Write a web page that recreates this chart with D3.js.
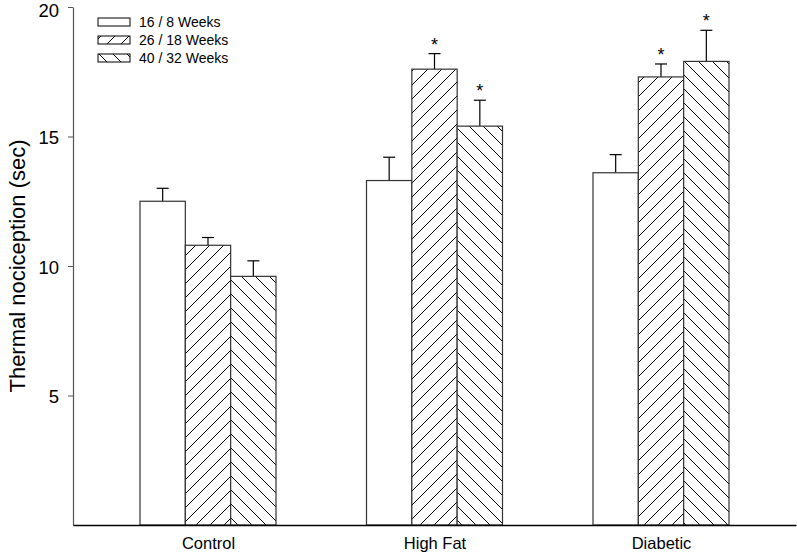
<!DOCTYPE html>
<html><head><meta charset="utf-8">
<script src="https://cdn.jsdelivr.net/npm/d3@7"></script>
<style>body{margin:0;background:#fff}svg{display:block;font-family:"Liberation Sans",Arial,sans-serif}</style>
</head><body><svg id="c" width="797" height="553"></svg>
<script>
const categories = ["Control", "High Fat", "Diabetic"];
const seriesNames = ["16 / 8 Weeks", "26 / 18 Weeks", "40 / 32 Weeks"];
const week16 = [12.5, 13.3, 13.6];
const week26 = [10.8, 17.6, 17.3];
const week40 = [9.6, 15.4, 17.9];
const err16 = [0.5, 0.9, 0.7];
const err26 = [0.3, 0.6, 0.5];
const err40 = [0.6, 1.0, 1.2];
const sig16 = [false, false, false];
const sig26 = [false, true, true];
const sig40 = [false, true, true];
const yTicks = [5, 10, 15, 20];

const series = [
  {name: seriesNames[0], values: week16, err: err16, sig: sig16, fill: "#fff"},
  {name: seriesNames[1], values: week26, err: err26, sig: sig26, fill: "url(#fwd)"},
  {name: seriesNames[2], values: week40, err: err40, sig: sig40, fill: "url(#bwd)"}
];

const svg = d3.select("#c");
const defs = svg.append("defs");
function hatch(id, dir) {
  const s = 14;
  const p = defs.append("pattern").attr("id", id).attr("patternUnits", "userSpaceOnUse")
    .attr("width", s).attr("height", s).attr("x", 231);
  p.append("rect").attr("width", s).attr("height", s).attr("fill", "#fff");
  const g = p.append("g").attr("stroke", "#000").attr("stroke-width", 1);
  if (dir > 0) {
    g.append("line").attr("x1", 0).attr("y1", s).attr("x2", s).attr("y2", 0);
    g.append("line").attr("x1", -s/2).attr("y1", s/2).attr("x2", s/2).attr("y2", -s/2);
    g.append("line").attr("x1", s/2).attr("y1", s*1.5).attr("x2", s*1.5).attr("y2", s/2);
  } else {
    g.append("line").attr("x1", 0).attr("y1", 0).attr("x2", s).attr("y2", s);
    g.append("line").attr("x1", -s/2).attr("y1", s/2).attr("x2", s/2).attr("y2", s*1.5);
    g.append("line").attr("x1", s/2).attr("y1", -s/2).attr("x2", s*1.5).attr("y2", s/2);
  }
}
hatch("fwd", 1);
hatch("bwd", -1);

const x = d3.scalePoint().domain(categories).range([73, 796]).padding(0.596);
const y = d3.scaleLinear().domain([0, 20]).range([525, 7]);
const inner = d3.scaleBand().domain(d3.range(series.length)).range([-68, 68]).padding(0);
const bw = inner.bandwidth();

// bars
series.forEach((s, i) => {
  const g = svg.append("g");
  g.selectAll("line.err").data(categories).join("line")
    .attr("x1", c => x(c) + inner(i) + bw/2).attr("x2", c => x(c) + inner(i) + bw/2)
    .attr("y1", (c, j) => y(s.values[j])).attr("y2", (c, j) => y(s.values[j] + s.err[j]))
    .attr("stroke", "#000").attr("stroke-width", 1.2);
  g.selectAll("line.cap").data(categories).join("line")
    .attr("x1", c => x(c) + inner(i) + bw/2 - 6).attr("x2", c => x(c) + inner(i) + bw/2 + 6)
    .attr("y1", (c, j) => y(s.values[j] + s.err[j])).attr("y2", (c, j) => y(s.values[j] + s.err[j]))
    .attr("stroke", "#000").attr("stroke-width", 1.2);
  g.selectAll("rect").data(categories).join("rect")
    .attr("x", c => x(c) + inner(i)).attr("width", bw)
    .attr("y", (c, j) => y(s.values[j])).attr("height", (c, j) => y(0) - y(s.values[j]))
    .attr("fill", s.fill).attr("stroke", "#333").attr("stroke-width", 1.2);
  g.selectAll("text").data(categories.filter((c, j) => s.sig[j])).join("text")
    .attr("x", c => x(c) + inner(i) + bw/2)
    .attr("y", c => { const j = categories.indexOf(c); return y(s.values[j] + s.err[j]) - 3; })
    .attr("text-anchor", "middle").attr("font-size", 18).text("*");
});

// y axis
const yAxis = d3.axisLeft(y).tickValues(yTicks).tickSize(5).tickSizeOuter(0).tickPadding(9);
const ya = svg.append("g").attr("transform", "translate(73,0)").call(yAxis);
ya.select(".domain").attr("stroke", "#555").attr("stroke-width", 1.2);
ya.selectAll(".tick line").attr("stroke", "#555");
ya.selectAll("text").attr("font-size", 18.5).attr("fill", "#000").attr("font-family", "Liberation Sans, Arial, sans-serif")
  .attr("dy", d => d === 20 ? "0.52em" : "0.4em");

// x axis
const xAxis = d3.axisBottom(x).tickSize(0).tickPadding(12);
const xa = svg.append("g").attr("transform", `translate(0,${y(0)})`).call(xAxis);
xa.select(".domain").attr("stroke", "#000").attr("stroke-width", 1.5);
xa.selectAll("text").attr("font-size", 16.5).attr("fill", "#000").attr("font-family", "Liberation Sans, Arial, sans-serif");

// y label
svg.append("text").attr("transform", "translate(25,266) rotate(-90)")
  .attr("text-anchor", "middle").attr("font-size", 22).text("Thermal nociception (sec)");

// legend
const leg = svg.append("g").attr("transform", "translate(98,18)");
series.forEach((s, i) => {
  leg.append("rect").attr("x", 0).attr("y", i * 18).attr("width", 32).attr("height", 8)
    .attr("fill", s.fill).attr("stroke", "#000").attr("stroke-width", 1);
  leg.append("text").attr("x", 41).attr("y", i * 18 + 9).attr("font-size", 14).text(s.name);
});
</script></body></html>
